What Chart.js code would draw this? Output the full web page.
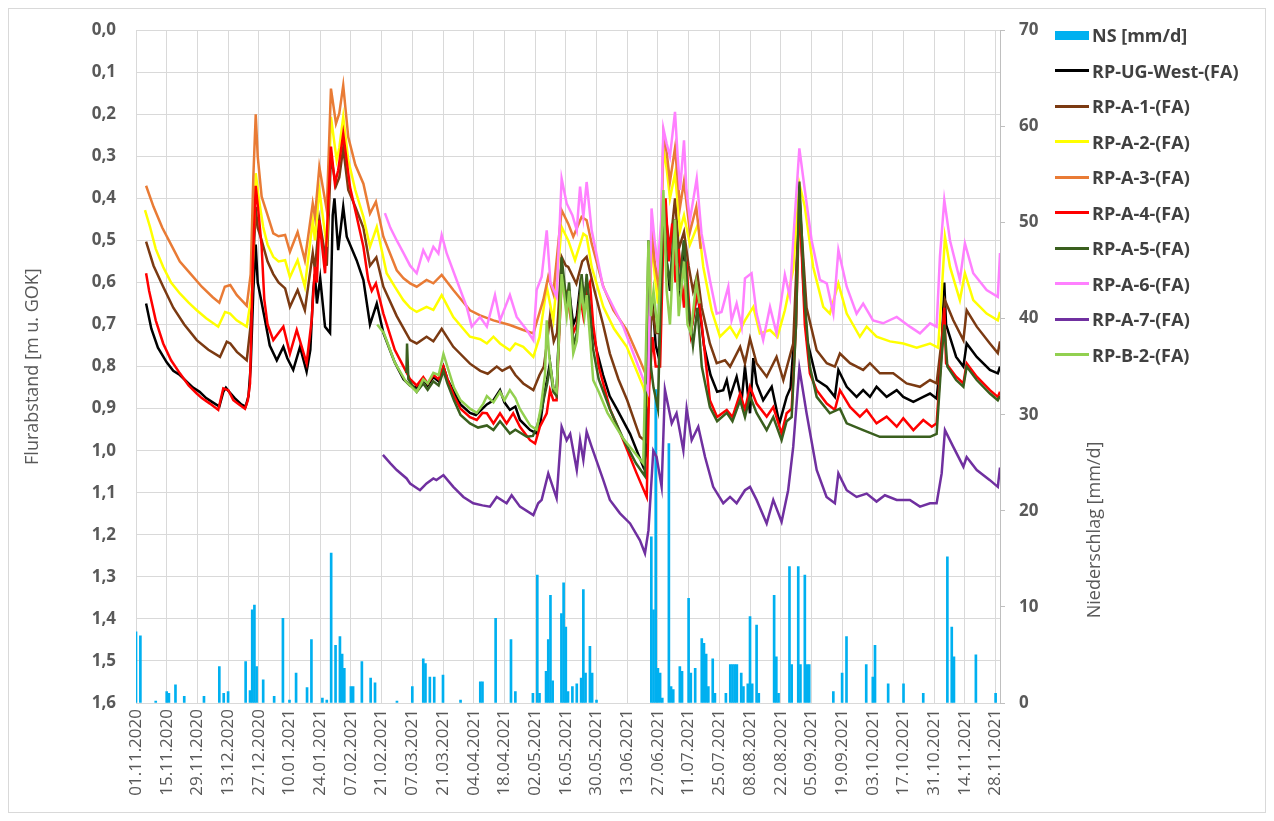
<!DOCTYPE html>
<html>
<head>
<meta charset="utf-8">
<script src="https://cdn.jsdelivr.net/npm/chart.js@4.4.1/dist/chart.umd.min.js"></script>
<style>
  html, body { margin: 0; padding: 0; background: #ffffff; }
  #wrap { position: relative; width: 1274px; height: 821px; font-family: 'Open Sans', 'DejaVu Sans', sans-serif; overflow: hidden; }
  #frame { position: absolute; left: 8px; top: 8px; width: 1258px; height: 805px; border: 1px solid #d9d9d9; box-sizing: border-box; pointer-events: none; }
  #chart { position: absolute; left: 0; top: 0; }
  .item { position: absolute; left: 1055px; height: 24px; display: flex; align-items: center; white-space: nowrap; font-weight: 700; font-size: 18px; color: #404040; }
  .sw { width: 34px; margin-right: 3px; }
  #rtitle { position: absolute; left: 1093px; top: 530px; transform: translate(-50%, -50%) rotate(-90deg); white-space: nowrap; font-size: 18px; color: #595959; }
</style>
</head>
<body>
<div id="wrap">
  <canvas id="chart" width="1274" height="821"></canvas>
  <div id="frame"></div>
  <div id="legend"></div>
  <div id="rtitle">Niederschlag [mm/d]</div>
</div>
<script>
// x axis: day index counted from 01.11.2020, labelled every 14 days
const dateLabels = ['01.11.2020','15.11.2020','29.11.2020','13.12.2020','27.12.2020','10.01.2021','24.01.2021',
  '07.02.2021','21.02.2021','07.03.2021','21.03.2021','04.04.2021','18.04.2021','02.05.2021','16.05.2021',
  '30.05.2021','13.06.2021','27.06.2021','11.07.2021','25.07.2021','08.08.2021','22.08.2021','05.09.2021',
  '19.09.2021','03.10.2021','17.10.2021','31.10.2021','14.11.2021','28.11.2021'];

// daily precipitation NS [mm/d] as [day, mm]
const nsRain = [[0,7.4],[2,7.0],[9,0.2],[14,1.2],[15,1.0],[18,1.9],[22,0.7],[31,0.7],[38,3.8],[40,1.0],[42,1.2],
  [50,4.3],[52,1.3],[53,9.7],[54,10.2],[55,3.8],[58,2.4],[63,0.7],[67,8.8],[70,0.3],[73,3.1],[78,1.6],[80,6.6],
  [85,0.5],[87,0.3],[89,15.6],[91,6.0],[93,6.9],[94,5.1],[95,3.6],[98,1.7],[99,1.7],[103,4.3],[107,2.6],[109,2.1],
  [119,0.2],[126,1.7],[131,4.6],[132,4.1],[134,2.7],[136,2.7],[140,2.9],[148,0.3],[157,2.2],[158,2.2],[164,8.8],
  [171,6.6],[173,1.2],[181,1.0],[183,13.3],[184,1.0],[187,3.3],[188,6.6],[189,11.2],[190,2.3],[194,9.3],[195,12.5],
  [196,7.9],[197,1.2],[199,1.7],[201,2.0],[203,2.6],[204,11.8],[205,3.1],[207,5.9],[208,3.1],[210,0.3],
  [235,17.3],[236,9.7],[237,32.6],[238,3.6],[239,3.1],[240,0.5],[243,27.0],[244,1.7],[245,1.4],[248,3.8],[249,3.3],
  [252,10.9],[253,3.1],[255,3.6],[258,6.7],[259,6.2],[260,5.1],[261,1.7],[263,4.6],[264,1.0],[269,1.0],[271,4.0],
  [272,4.0],[273,4.0],[274,4.0],[276,3.1],[277,1.7],[279,2.0],[280,9.0],[281,2.0],[283,8.1],[284,1.0],[291,11.2],
  [292,4.8],[293,1.0],[298,14.2],[299,4.0],[302,14.2],[303,4.0],[305,13.3],[306,4.0],[307,4.0],[318,1.2],[322,3.1],
  [324,6.9],[333,4.0],[336,2.7],[337,6.0],[343,2.0],[350,2.0],[359,1.0],[370,15.2],[372,7.9],[373,4.8],[383,5.0],[392,1.0]];

// groundwater depth below ground [m] as [day, value]
const westUG = [[4.6,0.65],[7,0.71],[10,0.755],[14,0.79],[17,0.81],[20,0.82],[23,0.835],[26,0.85],[29,0.86],[32,0.875],
  [35,0.885],[38,0.895],[39.8,0.86],[41,0.85],[42.5,0.86],[45,0.875],[48,0.89],[50,0.895],[51.3,0.87],[52.3,0.80],
  [53.5,0.62],[54.6,0.51],[55.5,0.60],[57,0.64],[58.5,0.68],[61,0.75],[64.2,0.785],[67.2,0.753],[69,0.78],[71.7,0.808],
  [74.8,0.753],[77.8,0.812],[79.5,0.76],[80.8,0.62],[81.6,0.58],[82.5,0.65],[84,0.59],[86.2,0.705],[88.5,0.72],
  [89.7,0.44],[90.5,0.40],[92.2,0.523],[94.5,0.42],[96.1,0.491],[100.6,0.547],[103.7,0.594],[106.7,0.70],[109.8,0.65],
  [112.8,0.72],[118,0.79],[122,0.83],[125,0.845],[128,0.85],[131,0.83],[133,0.845],[135.6,0.825],[138,0.835],
  [140.2,0.80],[142,0.83],[145,0.86],[148,0.89],[152.3,0.91],[155,0.915],[158,0.90],[160,0.89],[163,0.88],[166,0.856],
  [168,0.885],[170.5,0.903],[173,0.895],[175.1,0.927],[179.7,0.951],[182.7,0.959],[184.5,0.93],[186,0.87],[187.5,0.83],
  [188.8,0.79],[190.3,0.85],[191.8,0.86],[193,0.70],[194.1,0.57],[196.4,0.66],[197.5,0.62],[199.4,0.70],[201,0.68],
  [202.5,0.61],[204,0.66],[205.5,0.60],[207.8,0.70],[210,0.76],[213,0.82],[216,0.87],[219.2,0.90],[225.3,0.96],
  [231.3,1.038],[233,1.0],[233.7,0.50],[234.5,0.70],[235.5,0.64],[237,0.75],[238.5,0.78],[240.5,0.45],[242,0.55],
  [243.5,0.62],[245.8,0.45],[247.5,0.65],[249.9,0.50],[251.5,0.65],[253,0.72],[256,0.62],[259,0.75],[262,0.82],
  [265,0.86],[267.8,0.856],[269.4,0.832],[270.9,0.872],[273.9,0.824],[276.2,0.88],[277.7,0.80],[280,0.911],[281.5,0.78],
  [283,0.84],[286,0.88],[289.9,0.848],[293.4,0.935],[296.7,0.872],[298.5,0.85],[300.5,0.70],[302.5,0.38],[304.3,0.60],
  [306,0.737],[310.4,0.832],[315,0.848],[318.7,0.872],[320.3,0.808],[324.1,0.848],[328.6,0.872],[331.6,0.856],
  [334.7,0.872],[337.7,0.848],[342.3,0.872],[346.9,0.856],[349.9,0.872],[354.5,0.884],[359,0.872],[362.1,0.864],
  [365.1,0.876],[367.4,0.761],[368.6,0.60],[369.4,0.70],[374,0.777],[377.3,0.80],[378.8,0.745],[383.4,0.777],
  [389.4,0.808],[393,0.816],[394,0.80]];

const rpA1 = [[4.6,0.503],[8,0.56],[12.4,0.61],[17,0.66],[22,0.70],[27.7,0.737],[33,0.76],[38.3,0.777],[41.4,0.741],
  [43,0.745],[46,0.765],[50.5,0.785],[52.3,0.70],[54.6,0.42],[55.5,0.47],[57.3,0.50],[60,0.55],[62.6,0.58],[65,0.60],
  [68,0.614],[70.2,0.658],[73.7,0.618],[77,0.666],[80.6,0.53],[81.6,0.57],[83.6,0.45],[87,0.56],[88.9,0.30],[91.2,0.37],
  [92.7,0.35],[94.5,0.28],[96.8,0.38],[100,0.42],[103.7,0.47],[106.7,0.56],[109.6,0.54],[112.8,0.61],[118.9,0.68],
  [125,0.737],[128,0.745],[132.5,0.729],[135.6,0.74],[139.4,0.71],[144.7,0.753],[152.3,0.793],[157,0.81],[160.4,0.817],
  [164.5,0.80],[167,0.81],[170.5,0.80],[173,0.82],[176.6,0.84],[181.2,0.856],[184,0.82],[186,0.80],[187.5,0.74],
  [188.8,0.68],[190.5,0.74],[192,0.72],[194.1,0.539],[196,0.56],[197.1,0.563],[200.8,0.603],[203.5,0.55],[205.5,0.539],
  [209,0.618],[213,0.70],[216.1,0.769],[220,0.83],[224,0.88],[229.8,0.967],[233,0.98],[234.5,0.72],[235.5,0.66],
  [237,0.72],[239,0.72],[240.5,0.40],[242,0.46],[243.5,0.52],[245.8,0.40],[247.5,0.52],[249.9,0.48],[252,0.56],
  [254,0.62],[256,0.58],[258,0.66],[261.7,0.745],[264.8,0.792],[268.6,0.785],[270.9,0.80],[275.5,0.753],[277.7,0.792],
  [280,0.733],[283,0.792],[287.6,0.824],[292.1,0.777],[295.2,0.832],[299.7,0.745],[302.5,0.40],[305.8,0.66],
  [310.4,0.761],[315,0.792],[318.7,0.80],[321,0.769],[325.6,0.792],[331.6,0.808],[334.7,0.792],[339.2,0.816],
  [345.3,0.816],[351.4,0.84],[357.5,0.848],[362.1,0.832],[365.1,0.84],[367.4,0.737],[368.9,0.642],[372.7,0.69],
  [377.3,0.737],[378.8,0.666],[383.4,0.705],[389.4,0.745],[393,0.768],[394,0.74]];

const rpA2 = [[4.1,0.428],[6.4,0.468],[9,0.52],[12.4,0.563],[16,0.60],[20,0.626],[24,0.648],[27.7,0.666],[32,0.685],
  [37.5,0.705],[40.6,0.67],[42.9,0.674],[45.9,0.69],[50.5,0.705],[52.8,0.626],[54.6,0.34],[56,0.40],[58,0.468],[60,0.51],
  [62.6,0.539],[65,0.55],[68,0.547],[70.2,0.587],[73.7,0.547],[77,0.61],[80.6,0.452],[81.6,0.50],[83.6,0.38],[87,0.515],
  [88.9,0.206],[91.5,0.309],[92.7,0.28],[94.5,0.206],[96.8,0.309],[100,0.38],[103.7,0.444],[106.7,0.515],[109.8,0.468],
  [114.3,0.578],[118,0.61],[121.9,0.642],[125,0.66],[128,0.67],[132.5,0.658],[135.6,0.665],[139.4,0.63],[144.7,0.682],
  [152.3,0.729],[157,0.735],[160,0.745],[163,0.729],[166,0.745],[170.5,0.761],[173,0.745],[176.6,0.753],[181.2,0.777],
  [184,0.73],[187.3,0.61],[190.3,0.69],[194.1,0.468],[197.1,0.50],[200.2,0.547],[204,0.484],[205.5,0.49],[207.8,0.563],
  [213.1,0.658],[218,0.71],[223.8,0.753],[231.3,0.848],[233.5,0.89],[234.5,0.65],[235.1,0.49],[236.5,0.58],[238,0.65],
  [239.5,0.52],[240.5,0.28],[242,0.33],[243.5,0.40],[245.8,0.341],[248.1,0.476],[249.9,0.44],[252.6,0.51],[256.4,0.46],
  [258.7,0.563],[262.5,0.666],[266.3,0.729],[270.9,0.705],[273.9,0.73],[277.7,0.69],[281.5,0.658],[284.5,0.721],
  [289.1,0.713],[292.5,0.73],[295.9,0.666],[299.7,0.57],[302.5,0.365],[305,0.42],[308.8,0.563],[313.4,0.658],
  [316.4,0.674],[320.3,0.602],[324.1,0.674],[330.1,0.729],[333.2,0.705],[337.7,0.729],[343.8,0.74],[349.9,0.745],
  [356,0.755],[362.1,0.745],[365.8,0.755],[367.4,0.626],[368.9,0.491],[371.2,0.563],[375.7,0.642],[378,0.578],
  [381.8,0.642],[387.9,0.674],[393,0.69],[394,0.67]];

const rpA3 = [[4.6,0.37],[8,0.42],[12,0.47],[16,0.51],[20,0.55],[25,0.58],[30,0.61],[35,0.635],[38,0.648],[40.5,0.61],
  [43,0.606],[46,0.63],[50.5,0.655],[52.3,0.58],[53.5,0.35],[54.6,0.20],[55.5,0.30],[57.3,0.396],[60,0.44],[62.6,0.483],
  [65,0.49],[68,0.487],[70.2,0.527],[73.7,0.48],[77,0.547],[80.6,0.412],[81.6,0.444],[83.6,0.325],[87,0.428],[88.9,0.139],
  [91.2,0.222],[92.7,0.198],[94.5,0.131],[96.8,0.254],[100,0.32],[103.7,0.365],[106.7,0.436],[109.4,0.408],[112.8,0.491],
  [118.9,0.571],[122,0.59],[125,0.602],[128,0.61],[132.5,0.594],[135.6,0.602],[139.4,0.582],[144.7,0.618],[152.3,0.666],
  [156.9,0.678],[163,0.69],[170.5,0.701],[176.6,0.713],[181.2,0.721],[185.7,0.642],[188,0.586],[190.3,0.626],
  [194.1,0.428],[197.1,0.46],[199.4,0.491],[203.2,0.444],[205.5,0.452],[207.8,0.507],[213.1,0.61],[217.7,0.666],
  [223.8,0.713],[229.8,0.785],[232.9,0.824],[234.5,0.60],[235.5,0.47],[236.5,0.55],[238,0.60],[239.5,0.48],[240.5,0.25],
  [242,0.29],[243.5,0.36],[245.8,0.28],[248.1,0.42],[249.9,0.36],[252.6,0.48],[255.5,0.42],[257.5,0.52]];

const rpA4 = [[4.6,0.578],[6,0.62],[9,0.69],[12.4,0.745],[16,0.785],[20,0.816],[24,0.845],[27.7,0.864],[30,0.875],
  [33.7,0.888],[37.5,0.903],[39.8,0.852],[42.1,0.856],[44.4,0.88],[47,0.89],[49.7,0.90],[51,0.88],[52,0.84],[53.3,0.55],
  [54.6,0.37],[55.8,0.43],[57.3,0.515],[58.5,0.64],[60,0.70],[62.6,0.737],[65,0.72],[67.2,0.705],[70.2,0.769],[73.3,0.713],
  [76,0.76],[77.8,0.792],[80.1,0.69],[81.6,0.563],[82.5,0.60],[83.6,0.452],[86.2,0.578],[88.9,0.277],[90.7,0.365],
  [92.2,0.333],[94.5,0.246],[97.6,0.373],[100.5,0.44],[103.7,0.515],[105.9,0.594],[107.5,0.62],[109.4,0.602],
  [112.8,0.674],[118,0.76],[122,0.80],[125,0.83],[128,0.845],[131,0.825],[133,0.84],[135.6,0.82],[138,0.83],[140.2,0.80],
  [142,0.83],[145,0.87],[148,0.90],[152.3,0.92],[155.4,0.927],[158,0.91],[160,0.911],[163,0.935],[166,0.911],[169,0.935],
  [172,0.911],[175.1,0.943],[179.7,0.975],[182,0.983],[184.2,0.943],[187.3,0.911],[188.8,0.856],[190.3,0.88],[191.8,0.88],
  [193,0.72],[194.1,0.60],[196.4,0.626],[197.5,0.66],[199.4,0.72],[201,0.70],[202.5,0.63],[204,0.68],[205.5,0.62],
  [207,0.60],[208.5,0.70],[211,0.80],[216.1,0.90],[222.2,0.975],[228.3,1.054],[232.9,1.11],[234,0.85],[235.5,0.73],
  [237,0.80],[239,0.80],[240.5,0.50],[241.5,0.40],[243,0.55],[244.5,0.46],[246,0.60],[247.5,0.52],[249.9,0.66],[251,0.55],
  [253,0.72],[256,0.62],[258,0.70],[261.7,0.88],[265,0.92],[269.4,0.903],[272,0.92],[275.5,0.864],[277.7,0.903],
  [280,0.848],[283,0.888],[287.6,0.919],[290.6,0.896],[294.4,0.959],[296.7,0.911],[299,0.90],[301,0.70],[302.5,0.40],
  [305,0.70],[307.3,0.816],[310.4,0.856],[315,0.888],[318.7,0.903],[321,0.856],[325.6,0.896],[330.1,0.919],[333.2,0.903],
  [337.7,0.935],[342.3,0.919],[346.9,0.943],[349.9,0.923],[354.5,0.951],[359,0.927],[362.9,0.943],[365.1,0.935],
  [367.4,0.761],[368.6,0.66],[369.4,0.792],[374,0.824],[377.3,0.84],[378.8,0.792],[383.4,0.824],[389.4,0.856],
  [393,0.872],[394,0.86]];

const rpA5 = [[123.3,0.815],[123.6,0.745],[124.2,0.83],[128,0.86],[131,0.84],[133,0.855],[135.6,0.835],[138,0.845],
  [140.2,0.81],[142,0.84],[145,0.88],[148,0.915],[152.3,0.935],[156,0.945],[160,0.94],[163,0.951],[166,0.93],[170.5,0.959],
  [173,0.95],[178.2,0.967],[181,0.965],[183,0.94],[185,0.90],[187.5,0.84],[188.8,0.80],[190.3,0.86],[191.8,0.87],
  [193,0.70],[194.1,0.54],[196.4,0.65],[197.5,0.60],[199.4,0.75],[201,0.72],[203.2,0.58],[204.5,0.65],[205.5,0.58],
  [208.5,0.76],[211,0.83],[216,0.90],[222,0.97],[228,1.03],[232,1.06],[233.7,0.50],[234.8,0.80],[236,0.85],[238,0.90],
  [240.5,0.40],[242,0.55],[243.5,0.60],[245.8,0.45],[247.5,0.62],[249.9,0.50],[252,0.66],[254,0.75],[256,0.66],[258,0.80],
  [261.7,0.896],[265,0.93],[269.4,0.91],[272,0.93],[275.5,0.88],[277.7,0.92],[280,0.87],[283,0.91],[287.6,0.951],
  [290.6,0.92],[294.4,0.975],[296.7,0.93],[299,0.92],[301,0.70],[302.5,0.36],[305,0.65],[307.3,0.80],[310.4,0.872],
  [316.4,0.911],[321,0.90],[324.1,0.935],[331.6,0.951],[339.2,0.967],[346.9,0.967],[354.5,0.967],[362.1,0.967],
  [365.1,0.96],[367.4,0.777],[368.6,0.70],[370,0.80],[374,0.832],[377.3,0.848],[378.8,0.80],[383.4,0.832],[389.4,0.864],
  [393,0.88],[394,0.87]];

const rpA6 = [[113.5,0.435],[116,0.47],[118.9,0.50],[122,0.53],[125,0.56],[128,0.578],[131,0.523],[133.3,0.547],
  [135.6,0.515],[137.9,0.531],[139.4,0.487],[141.7,0.531],[146.2,0.594],[150.8,0.658],[153.1,0.705],[156.9,0.682],
  [160,0.705],[163.7,0.63],[166,0.69],[170.5,0.63],[173.6,0.682],[178.2,0.713],[181.2,0.737],[182.7,0.618],[185,0.586],
  [187.3,0.476],[189,0.60],[191.8,0.634],[194.1,0.353],[196.4,0.412],[199,0.44],[201,0.476],[202.5,0.372],[204,0.444],
  [205.5,0.361],[207.8,0.476],[213,0.61],[222.2,0.705],[231.3,0.83],[233.5,0.86],[234.5,0.60],[235.1,0.424],[236.5,0.50],
  [238,0.56],[239.5,0.45],[240.5,0.234],[242,0.27],[243.5,0.30],[245.8,0.194],[247,0.30],[248.1,0.38],[249.9,0.262],
  [251,0.38],[252.6,0.452],[255.7,0.353],[257.9,0.484],[261.7,0.594],[264.8,0.674],[267,0.67],[270.1,0.61],[271.6,0.69],
  [273.9,0.65],[276.2,0.705],[277.7,0.59],[280.7,0.578],[283,0.674],[286,0.737],[289.1,0.658],[292.1,0.721],[295.9,0.582],
  [298.2,0.634],[299.7,0.50],[302.5,0.281],[305,0.38],[308.1,0.50],[311.9,0.594],[315,0.602],[318,0.674],[320.3,0.523],
  [324.1,0.61],[328.6,0.674],[331.6,0.65],[336.1,0.69],[340.7,0.697],[346.9,0.682],[352.9,0.705],[357.5,0.721],
  [362.1,0.697],[365.1,0.705],[366.6,0.539],[368.6,0.404],[371.2,0.50],[375.7,0.594],[378,0.507],[381.8,0.578],
  [387.9,0.618],[393,0.634],[394,0.53]];

const rpA7 = [[112.6,1.01],[116,1.03],[118.9,1.046],[123.4,1.066],[125,1.078],[129.5,1.094],[132.5,1.078],[135.6,1.066],
  [137,1.07],[140.2,1.058],[144.7,1.086],[149.3,1.11],[153.8,1.125],[158,1.13],[161.4,1.133],[164.5,1.11],[169,1.125],
  [171.3,1.106],[175.1,1.133],[181.2,1.153],[183.4,1.125],[185,1.117],[188,1.054],[191.8,1.113],[194.1,0.943],
  [196.4,0.975],[198,0.96],[201,1.046],[202.5,0.975],[204,1.022],[205.5,0.955],[207.8,0.991],[213.1,1.07],[216.1,1.117],
  [220.7,1.149],[225.3,1.173],[229.8,1.213],[232.1,1.244],[233.7,1.189],[235.9,1.0],[237.4,1.015],[239.7,1.086],
  [241.2,0.855],[244.3,0.935],[246.5,0.911],[249.6,0.999],[251.1,0.90],[253.4,0.975],[256.4,0.943],[259.5,1.015],
  [263.2,1.086],[267.8,1.125],[270.9,1.11],[273.9,1.125],[277.7,1.094],[280,1.086],[283,1.117],[287.6,1.173],[290.6,1.117],
  [294.4,1.169],[297.4,1.094],[299.7,0.991],[302.5,0.804],[305.8,0.911],[310.4,1.046],[314.9,1.11],[318.7,1.125],
  [320.3,1.054],[324.1,1.094],[328.6,1.11],[333.2,1.102],[337.7,1.121],[341.5,1.106],[346.9,1.117],[352.9,1.117],
  [357.5,1.133],[362.1,1.125],[365.1,1.125],[367.4,1.054],[368.9,0.951],[372.7,0.991],[377.3,1.038],[378.8,1.015],
  [383.4,1.046],[389.4,1.07],[393,1.086],[394,1.04]];

const rpB2 = [[110,0.70],[113,0.72],[118,0.79],[123,0.835],[128,0.86],[131,0.83],[133,0.84],[135.6,0.815],[138,0.82],
  [140.2,0.77],[142,0.80],[145,0.85],[148,0.88],[152.3,0.90],[155.4,0.91],[158.4,0.888],[160,0.87],[163,0.885],[166,0.86],
  [168,0.88],[170.5,0.856],[173,0.875],[175,0.90],[179.7,0.94],[182.7,0.95],[184.5,0.90],[186.5,0.82],[187.3,0.69],
  [188.5,0.78],[190.3,0.85],[191.8,0.86],[193,0.72],[194.1,0.58],[196.4,0.68],[197.5,0.62],[199.4,0.769],[201,0.74],
  [203.2,0.618],[204.5,0.68],[205.5,0.63],[208.5,0.832],[211,0.86],[215,0.91],[222,0.97],[231.3,1.03],[233.7,0.50],
  [234.8,0.68],[236,0.62],[238,0.72],[240.5,0.38],[242,0.62],[243.5,0.70],[245.8,0.45],[247.5,0.68],[249.9,0.55],
  [251.5,0.70],[253,0.72],[255.5,0.60],[257,0.65]];

const lineSeries = [
  { label: 'RP-UG-West-(FA)', data: westUG, color: '#000000' },
  { label: 'RP-A-1-(FA)',     data: rpA1,   color: '#7b3a12' },
  { label: 'RP-A-2-(FA)',     data: rpA2,   color: '#ffff00' },
  { label: 'RP-A-3-(FA)',     data: rpA3,   color: '#e97b35' },
  { label: 'RP-A-4-(FA)',     data: rpA4,   color: '#ff0000' },
  { label: 'RP-A-5-(FA)',     data: rpA5,   color: '#3a5f1e' },
  { label: 'RP-A-6-(FA)',     data: rpA6,   color: '#ff80ff' },
  { label: 'RP-A-7-(FA)',     data: rpA7,   color: '#7030a0' },
  { label: 'RP-B-2-(FA)',     data: rpB2,   color: '#92d050' }
];
const rainColor = '#00b0f0';
const tickColor = '#595959';
const gridColor = '#d9d9d9';

const datasets = [{
  type: 'bar',
  label: 'NS [mm/d]',
  data: nsRain.map(p => ({ x: p[0], y: p[1] })),
  backgroundColor: rainColor,
  borderWidth: 0,
  barThickness: 2,
  yAxisID: 'y2',
  order: 20
}];
lineSeries.forEach((s, i) => {
  datasets.push({
    type: 'line',
    label: s.label,
    data: s.data.map(p => ({ x: p[0], y: p[1] })),
    borderColor: s.color,
    backgroundColor: s.color,
    borderWidth: 2.5,
    pointRadius: 0,
    tension: 0,
    fill: false,
    yAxisID: 'y',
    order: 10 - i
  });
});

// legend on the right, one row per series
const legend = document.getElementById('legend');
const rows = [{ label: 'NS [mm/d]', color: rainColor, bar: true }].concat(lineSeries);
rows.forEach((r, i) => {
  const el = document.createElement('div');
  el.className = 'item';
  el.style.top = (23 + i * 35.5) + 'px';
  const sw = document.createElement('span');
  sw.className = 'sw';
  sw.style.height = r.bar ? '9px' : '3px';
  sw.style.background = r.color;
  el.appendChild(sw);
  el.appendChild(document.createTextNode(r.label));
  legend.appendChild(el);
});

new Chart(document.getElementById('chart'), {
  type: 'bar',
  data: { datasets },
  options: {
    responsive: false,
    animation: false,
    devicePixelRatio: 1,
    layout: { padding: { left: 22, right: 0, top: 30, bottom: 0 } },
    plugins: { legend: { display: false }, tooltip: { enabled: false } },
    scales: {
      x: {
        type: 'linear',
        min: 0,
        max: 394,
        offset: false,
        afterBuildTicks: axis => { axis.ticks = dateLabels.map((_, i) => ({ value: i * 14 })); },
        afterFit: scale => { scale.height = 118; },
        ticks: {
          autoSkip: false,
          maxRotation: 90,
          minRotation: 90,
          padding: 6,
          color: tickColor,
          font: { family: 'Open Sans', size: 17 },
          callback: (v, i) => dateLabels[i]
        },
        grid: { color: gridColor, drawTicks: false, offset: false },
        border: { color: gridColor }
      },
      y: {
        position: 'left',
        reverse: true,
        min: 0,
        max: 1.6,
        afterFit: scale => { scale.width = 114; },
        ticks: {
          stepSize: 0.1,
          padding: 20,
          color: tickColor,
          font: { family: 'Open Sans', size: 17, weight: 'bold' },
          callback: v => v.toFixed(1).replace('.', ',')
        },
        grid: { color: gridColor, drawTicks: false },
        border: { color: gridColor },
        title: {
          display: true,
          text: 'Flurabstand [m u. GOK]',
          color: tickColor,
          font: { family: 'Open Sans', size: 18 },
          padding: { top: 0, bottom: 0 }
        }
      },
      y2: {
        position: 'right',
        min: 0,
        max: 70,
        afterFit: scale => { scale.width = 274; },
        ticks: {
          stepSize: 10,
          padding: 14,
          color: tickColor,
          font: { family: 'Open Sans', size: 17, weight: 'bold' },
          callback: v => String(v)
        },
        grid: { drawOnChartArea: false, drawTicks: true, tickLength: 5, color: '#bfbfbf' },
        border: { color: '#bfbfbf' }
      }
    }
  }
});
</script>
</body>
</html>
